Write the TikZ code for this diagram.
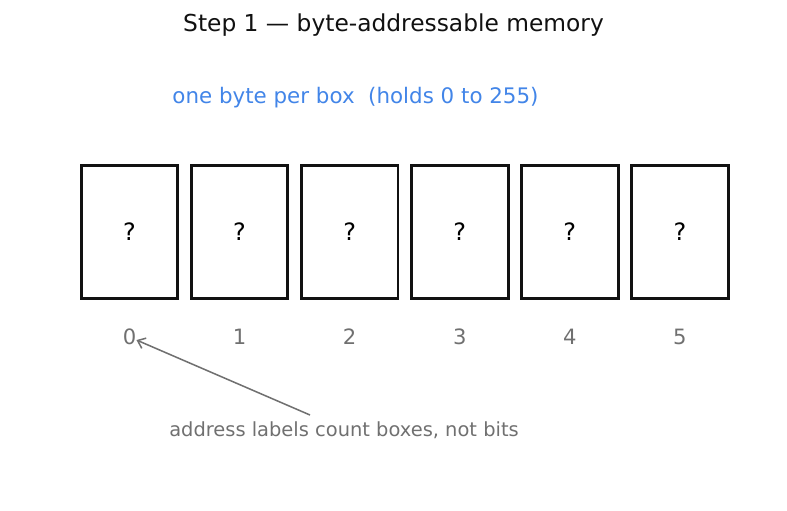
\documentclass[tikz,border=0pt]{standalone}
\usepackage{fontspec}
\setmainfont{DejaVu Sans}
\usepackage{xcolor}
\usetikzlibrary{arrows.meta, positioning}
\definecolor{myblue}  {RGB}{66,133,232}
\definecolor{darkgray}{RGB}{112,112,112}
\definecolor{inkblack}{RGB}{17,17,17}

\begin{document}
\begin{tikzpicture}[
  x=0.72pt, y=-0.72pt,
  cell/.style={
    rectangle, draw=inkblack, line width=2.1pt, outer sep=0pt,
    minimum width=69.6pt, minimum height=96.2pt,
    font=\fontsize{17.2}{20}\selectfont, inner sep=0pt},
  addr/.style={font=\fontsize{15.2}{18}\selectfont, text=darkgray, inner sep=0pt},
  arr/.style={-{Straight Barb[length=5pt,width=8pt]}, line width=1.1pt, darkgray},
  lbl/.style={font=\fontsize{14}{17}\selectfont, text=darkgray}
]
  \useasboundingbox (0,0) rectangle (787,510);
  \node[font=\fontsize{16.8}{20}\selectfont, text=inkblack] (title) at (393.5,25)
    {Step 1 — byte-addressable memory};
  \node[font=\fontsize{15.4}{18}\selectfont, text=myblue] (sub) at (355.5,98)
    {one byte per box\ \ (holds 0 to 255)};
  % Memory cells
  \node[cell] (cell0) at (129.5,232) {?};
  \foreach \i [remember=\i as \prev (initially 0)] in {1,...,5}
    \node[cell, right=9.65pt of cell\prev] (cell\i) {?};
  % Addresses
  \foreach \i in {0,...,5}
    \node[addr] (addr\i) at ([yshift=-27.5pt]cell\i.south) {\i};
  % Note
  \node[lbl] (note) at (344,430) {address labels count boxes, not bits};
  \coordinate (tail) at (310,415);
  \draw[arr] (tail) -- (addr0);
\end{tikzpicture}
\end{document}
